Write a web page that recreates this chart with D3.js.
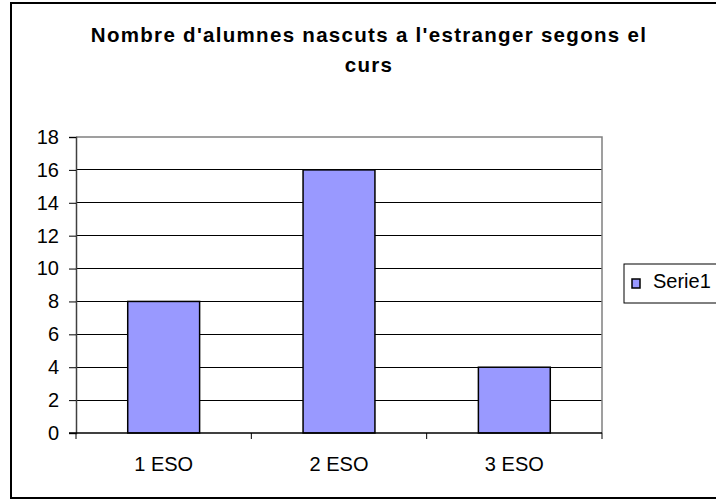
<!DOCTYPE html>
<html>
<head>
<meta charset="utf-8">
<script src="https://cdn.jsdelivr.net/npm/d3@7"></script>
<style>
  body { margin: 0; background: #fff; }
  text { font-family: "Liberation Sans", Arial, sans-serif; fill: #000; }
</style>
</head>
<body>
<div id="chart"></div>
<script>
const categories = ['1 ESO', '2 ESO', '3 ESO'];
const values = [8, 16, 4];
const yTicks = [0, 2, 4, 6, 8, 10, 12, 14, 16, 18];
const seriesName = 'Serie1';
const titleLines = ["Nombre d'alumnes nascuts a l'estranger segons el", 'curs'];

const W = 716, H = 502;
const margin = { left: 76, top: 137, right: 114, bottom: 69 };
const width = W - margin.left - margin.right;
const height = H - margin.top - margin.bottom;
const fontSize = '20px';

const svg = d3.select('#chart').append('svg')
  .attr('width', W)
  .attr('height', H);

// outer frame
svg.append('rect')
  .attr('x', 11).attr('y', 3)
  .attr('width', 740).attr('height', 495)
  .attr('fill', 'none')
  .attr('stroke', '#000')
  .attr('stroke-width', 2);

// title
svg.append('text')
  .attr('text-anchor', 'middle')
  .style('font-weight', 'bold')
  .style('font-size', '20.5px')
  .style('letter-spacing', '1.3px')
  .selectAll('tspan')
  .data(titleLines)
  .enter().append('tspan')
  .attr('x', 369)
  .attr('y', (d, i) => 42 + i * 30)
  .text((d) => d);

const g = svg.append('g')
  .attr('transform', `translate(${margin.left},${margin.top})`);

const xScale = d3.scaleBand()
  .domain(categories)
  .range([0, width]);

const yScale = d3.scaleLinear()
  .domain([0, 18])
  .range([height, 0]);

// gridlines
g.append('g')
  .selectAll('line')
  .data(yTicks.filter((d) => d > 0 && d < 18))
  .enter().append('line')
  .attr('x1', 0).attr('x2', width)
  .attr('y1', (d) => yScale(d)).attr('y2', (d) => yScale(d))
  .attr('stroke', '#000')
  .attr('stroke-width', 1)
  .attr('shape-rendering', 'crispEdges');

// plot border top / right (gray)
g.append('path')
  .attr('d', `M0,${yScale(18)}H${width}V${height}`)
  .attr('fill', 'none')
  .attr('stroke', '#808080')
  .attr('stroke-width', 1.5);

// bars
const barW = xScale.bandwidth() * 0.41;
g.selectAll('.bar')
  .data(values)
  .enter().append('rect')
  .attr('class', 'bar')
  .attr('x', (d, i) => xScale(categories[i]) + (xScale.bandwidth() - barW) / 2)
  .attr('width', barW)
  .attr('y', (d) => yScale(d))
  .attr('height', (d) => height - yScale(d))
  .attr('fill', '#9999FF')
  .attr('stroke', '#000')
  .attr('stroke-width', 1.5);

// y axis
const yAxis = g.append('g')
  .call(d3.axisLeft(yScale).tickValues(yTicks).tickSize(7).tickPadding(10).tickFormat(d3.format('d')));
yAxis.selectAll('text').style('font-size', fontSize).style('font-family', '"Liberation Sans", Arial, sans-serif');
yAxis.selectAll('.tick line').attr('stroke', '#000');
yAxis.select('.domain').attr('stroke', '#404040').attr('stroke-width', 1.5);

// x axis: ticks at category boundaries
const bounds = categories.map((c) => xScale(c)).concat([width]);
const xAxis = g.append('g').attr('transform', `translate(0,${height})`);
xAxis.append('line')
  .attr('x1', -7).attr('x2', width)
  .attr('stroke', '#000').attr('stroke-width', 1.5);
xAxis.selectAll('.xt')
  .data(bounds)
  .enter().append('line')
  .attr('x1', (d) => d).attr('x2', (d) => d)
  .attr('y1', 0).attr('y2', 6)
  .attr('stroke', '#000');
xAxis.selectAll('.xl')
  .data(categories)
  .enter().append('text')
  .attr('x', (d) => xScale(d) + xScale.bandwidth() / 2)
  .attr('y', 38)
  .attr('text-anchor', 'middle')
  .style('font-size', fontSize)
  .text((d) => d);

// legend
const leg = svg.append('g').attr('transform', 'translate(624,264)');
leg.append('rect')
  .attr('width', 120).attr('height', 39)
  .attr('fill', '#fff').attr('stroke', '#000').attr('stroke-width', 1);
leg.append('rect')
  .attr('x', 8).attr('y', 15)
  .attr('width', 8).attr('height', 9)
  .attr('fill', '#9999FF').attr('stroke', '#000').attr('stroke-width', 1.5);
leg.append('text')
  .attr('x', 29).attr('y', 24)
  .style('font-size', fontSize)
  .text(seriesName);
</script>
</body>
</html>
